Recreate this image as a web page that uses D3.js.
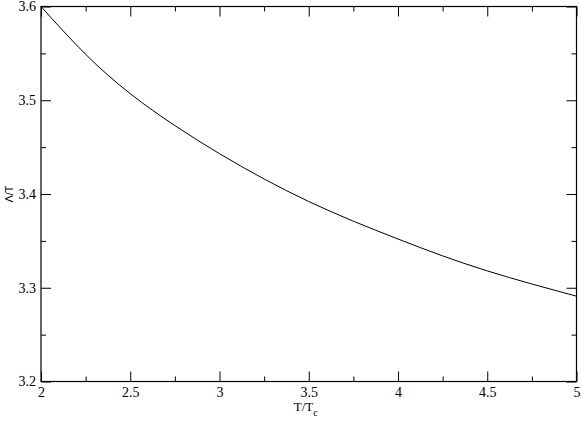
<!DOCTYPE html>
<html>
<head>
<meta charset="utf-8">
<script src="https://cdn.jsdelivr.net/npm/d3@7"></script>
<style>
  body { margin: 0; background: #fff; }
  svg { display: block; }
  svg text { font-family: "Liberation Serif", "DejaVu Serif", serif !important; }
  svg text.sans { font-family: "Liberation Sans", "DejaVu Sans", sans-serif !important; }
</style>
</head>
<body>
<div id="chart"></div>
<script>
// values
const tValues = [2.0, 2.25, 2.5, 2.75, 3.0, 3.25, 3.5, 3.75, 4.0, 4.25, 4.5, 4.75, 5.0];
const lambdaValues = [3.600, 3.549, 3.507, 3.473, 3.443, 3.416, 3.392, 3.371, 3.352, 3.334, 3.318, 3.304, 3.291];

const xMajorTicks = [2, 2.5, 3, 3.5, 4, 4.5, 5];
const xMinorTicks = [2.25, 2.75, 3.25, 3.75, 4.25, 4.75];
const yMajorTicks = [3.2, 3.3, 3.4, 3.5, 3.6];
const yMinorTicks = [3.25, 3.35, 3.45, 3.55];

const width = 581, height = 421;
const margin = { top: 6.5, right: 4.5, bottom: 39.5, left: 41 };

const svg = d3.select("#chart").append("svg")
  .attr("width", width)
  .attr("height", height);

const x = d3.scaleLinear().domain([2, 5]).range([margin.left, width - margin.right]);
const y = d3.scaleLinear().domain([3.2, 3.6]).range([height - margin.bottom, margin.top]);

const fmt = d => String(+d.toFixed(2));

// axes with inward ticks on all four sides
function drawAxis(axisFn, scale, ticks, len, transform, labels) {
  const g = svg.append("g")
    .attr("transform", transform)
    .call(axisFn(scale).tickValues(ticks).tickSize(len).tickSizeOuter(0)
      .tickFormat(labels ? fmt : ""));
  g.select(".domain").remove();
  g.attr("font-family", null).attr("font-size", 14);
  g.selectAll(".tick line").attr("stroke", "#000").attr("stroke-width", 1);
  g.selectAll(".tick text").attr("fill", "#000");
  return g;
}

const bottomY = height - margin.bottom;
const rightX = width - margin.right;

// bottom: ticks pointing up (inward), labels below
const gb = drawAxis(d3.axisTop, x, xMajorTicks, 10, `translate(0,${bottomY})`, true);
gb.selectAll(".tick text").attr("y", 15).attr("dy", "0");
drawAxis(d3.axisTop, x, xMinorTicks, 5, `translate(0,${bottomY})`, false);
// top
drawAxis(d3.axisBottom, x, xMajorTicks, 10, `translate(0,${margin.top})`, false);
drawAxis(d3.axisBottom, x, xMinorTicks, 5, `translate(0,${margin.top})`, false);
// left: ticks pointing right, labels to the left
const gl = drawAxis(d3.axisRight, y, yMajorTicks, 10, `translate(${margin.left},0)`, true);
gl.selectAll(".tick text").attr("x", -5).attr("text-anchor", "end").attr("dy", "0.32em");
drawAxis(d3.axisRight, y, yMinorTicks, 5, `translate(${margin.left},0)`, false);
// right
drawAxis(d3.axisLeft, y, yMajorTicks, 10, `translate(${rightX},0)`, false);
drawAxis(d3.axisLeft, y, yMinorTicks, 5, `translate(${rightX},0)`, false);

// frame
svg.append("rect")
  .attr("x", margin.left)
  .attr("y", margin.top)
  .attr("width", rightX - margin.left)
  .attr("height", bottomY - margin.top)
  .attr("fill", "none")
  .attr("stroke", "#000")
  .attr("stroke-width", 1.2);

// curve
const points = tValues.map((t, i) => [t, lambdaValues[i]]);
const line = d3.line()
  .x(d => x(d[0]))
  .y(d => y(d[1]))
  .curve(d3.curveNatural);

svg.append("path")
  .datum(points)
  .attr("d", line)
  .attr("fill", "none")
  .attr("stroke", "#000")
  .attr("stroke-width", 1);

// axis titles
const xTitle = svg.append("text")
  .attr("x", x(3.5) - 3)
  .attr("y", 411)
  .attr("text-anchor", "middle")
  .attr("font-size", 13);
xTitle.append("tspan").text("T/T");
xTitle.append("tspan").attr("dy", 5).attr("font-size", 10).text("c");

svg.append("text")
  .attr("class", "sans")
  .attr("transform", `translate(13,${y(3.4)}) rotate(-90)`)
  .attr("text-anchor", "middle")
  .attr("font-size", 11)
  .text("Λ/T");
</script>
</body>
</html>
